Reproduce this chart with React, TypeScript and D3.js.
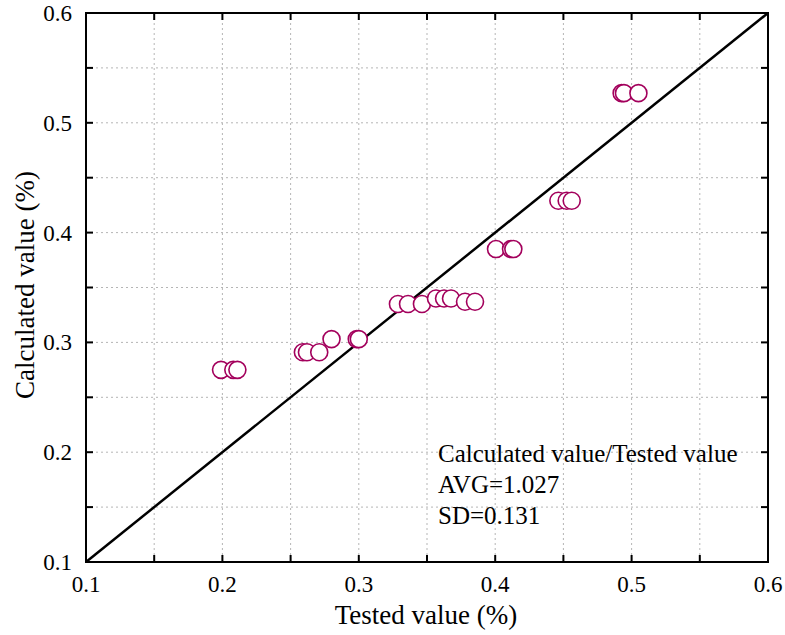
import React from "react";
import * as d3 from "d3";

const testedValues = [
  0.199, 0.208, 0.211,
  0.259, 0.262, 0.271,
  0.280, 0.2985, 0.300,
  0.3287, 0.3361, 0.3463,
  0.3566, 0.3625, 0.3676,
  0.3779, 0.3852,
  0.4006, 0.4116, 0.4133,
  0.4463, 0.4524, 0.4561,
  0.4927, 0.4944, 0.505,
];
const calculatedValues = [
  0.275, 0.275, 0.275,
  0.291, 0.291, 0.291,
  0.303, 0.303, 0.303,
  0.335, 0.335, 0.335,
  0.340, 0.340, 0.340,
  0.337, 0.337,
  0.385, 0.385, 0.385,
  0.429, 0.429, 0.429,
  0.527, 0.527, 0.527,
];
const majorTicks = [0.1, 0.2, 0.3, 0.4, 0.5, 0.6];
const allTicks = [0.1, 0.15, 0.2, 0.25, 0.3, 0.35, 0.4, 0.45, 0.5, 0.55, 0.6];
const annotation = ["Calculated value/Tested value", "AVG=1.027", "SD=0.131"];

export default function App() {
  const W = 785, H = 635;
  const left = 86, right = 768, top = 13, bottom = 562;
  const x = d3.scaleLinear().domain([0.1, 0.6]).range([left, right]);
  const y = d3.scaleLinear().domain([0.1, 0.6]).range([bottom, top]);
  const font = "'Liberation Serif', 'Times New Roman', serif";
  const tl = 7;
  const inner = allTicks.filter((t) => t > 0.1 && t < 0.6);
  const line = d3.line<[number, number]>().x((d) => x(d[0])).y((d) => y(d[1]));
  return (
    <svg width={W} height={H} style={{ position: "absolute", left: 0, top: 0 }}>
      <rect width={W} height={H} fill="#fff" />
      {inner.map((t) => (
        <g key={"g" + t}>
          <line x1={x(t)} x2={x(t)} y1={top} y2={bottom} stroke="#b5b5b5" strokeWidth={1} strokeDasharray="2,3" />
          <line x1={left} x2={right} y1={y(t)} y2={y(t)} stroke="#b5b5b5" strokeWidth={1} strokeDasharray="2,3" />
        </g>
      ))}
      {inner.map((t) => (
        <g key={"t" + t} stroke="#000" strokeWidth={2}>
          <line x1={x(t)} x2={x(t)} y1={bottom} y2={bottom - tl} />
          <line x1={x(t)} x2={x(t)} y1={top} y2={top + tl} />
          <line x1={left} x2={left + tl} y1={y(t)} y2={y(t)} />
          <line x1={right} x2={right - tl} y1={y(t)} y2={y(t)} />
        </g>
      ))}
      <path d={line([[0.1, 0.1], [0.6, 0.6]]) || ""} stroke="#000" strokeWidth={2.5} fill="none" />
      {testedValues.map((v, i) => (
        <circle key={i} cx={x(v)} cy={y(calculatedValues[i])} r={8.5} fill="#fff" stroke="#a3005c" strokeWidth={1.6} />
      ))}
      <rect x={left} y={top} width={right - left} height={bottom - top} fill="none" stroke="#000" strokeWidth={2} />
      {majorTicks.map((t) => (
        <text key={"xl" + t} x={x(t)} y={bottom + 30} textAnchor="middle" fontFamily={font} fontSize={23}>
          {t.toFixed(1)}
        </text>
      ))}
      {majorTicks.map((t) => (
        <text key={"yl" + t} x={left - 14} y={y(t) + 8} textAnchor="end" fontFamily={font} fontSize={23}>
          {t.toFixed(1)}
        </text>
      ))}
      <text x={426} y={624} textAnchor="middle" fontFamily={font} fontSize={27}>
        Tested value (%)
      </text>
      <text transform={`translate(34,285) rotate(-90)`} textAnchor="middle" fontFamily={font} fontSize={27}>
        Calculated value (%)
      </text>
      {annotation.map((s, i) => (
        <text key={s} x={438} y={462 + i * 31} fontFamily={font} fontSize={25}>
          {s}
        </text>
      ))}
    </svg>
  );
}
